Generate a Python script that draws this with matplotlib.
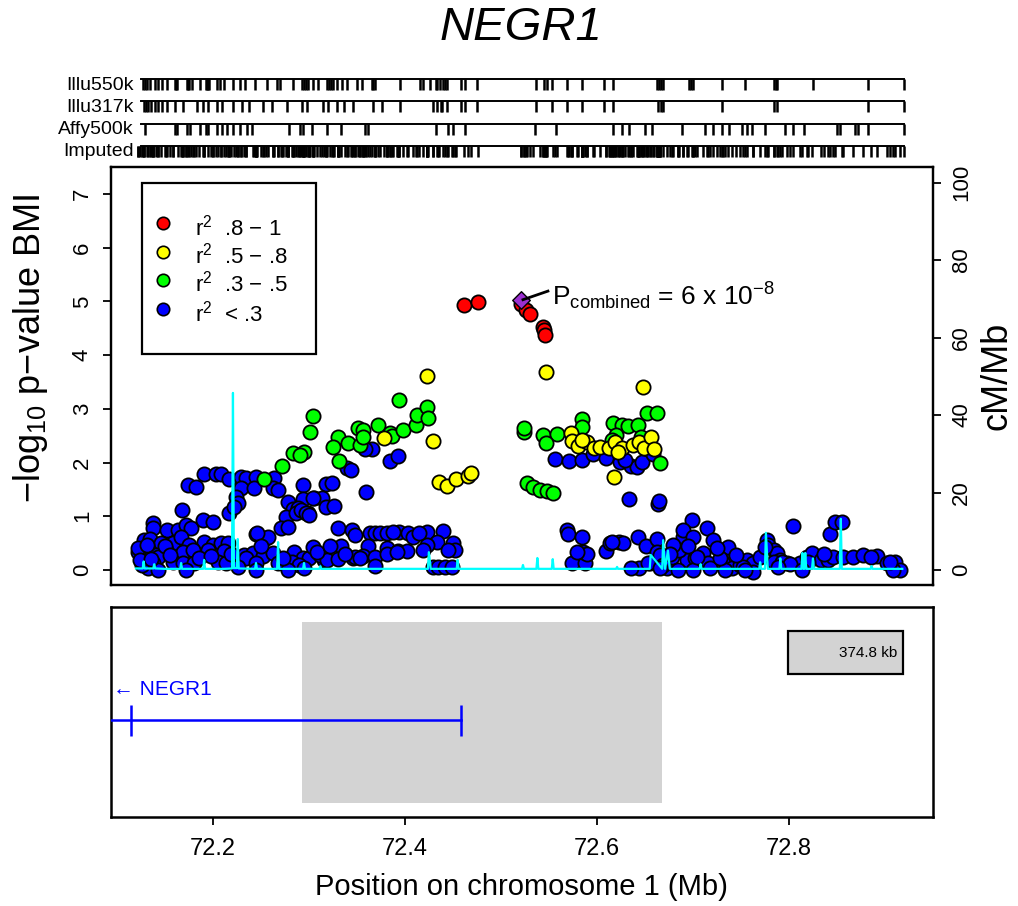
import matplotlib
matplotlib.use('Agg')
import matplotlib.pyplot as plt
from matplotlib.patches import Rectangle

plt.rcParams['font.family'] = ['Liberation Sans', 'DejaVu Sans']
plt.rcParams['mathtext.fontset'] = 'custom'
plt.rcParams['mathtext.rm'] = 'Liberation Sans'
plt.rcParams['mathtext.it'] = 'Liberation Sans:italic'
plt.rcParams['mathtext.default'] = 'regular'

# ---------------- data ----------------
gene_title = "NEGR1"

# r2 < .3 (blue)
blue_x = [72.191, 72.203, 72.209, 72.217, 72.229, 72.235, 72.245, 72.264, 72.174, 72.183,
          72.229, 72.243, 72.263, 72.268, 72.294, 72.318, 72.324, 72.224, 72.226, 72.217,
          72.222, 72.168, 72.278, 72.294, 72.305, 72.314, 72.284, 72.289, 72.299, 72.276,
          72.271, 72.278, 72.138, 72.138, 72.152, 72.164, 72.172, 72.177, 72.190, 72.200,
          72.128, 72.135, 72.146, 72.159, 72.167, 72.175, 72.191, 72.200, 72.209, 72.216,
          72.245, 72.255, 72.127, 72.141, 72.151, 72.169, 72.179, 72.195, 72.212, 72.232,
          72.242, 72.252, 72.263, 72.285, 72.294, 72.300, 72.143, 72.128, 72.138, 72.159,
          72.169, 72.180, 72.205, 72.214, 72.235, 72.245, 72.268, 72.282, 72.290, 72.133,
          72.143, 72.172, 72.226, 72.245, 72.278, 72.295, 72.316, 72.287, 72.292, 72.297,
          72.304, 72.318, 72.300, 72.257, 72.246, 72.122, 72.126, 72.122, 72.124, 72.304,
          72.312,
          72.326, 72.360, 72.340, 72.344, 72.366, 72.359, 72.385, 72.393,
          72.330, 72.345, 72.348, 72.364, 72.369, 72.374, 72.381, 72.394, 72.403, 72.409,
          72.423, 72.440, 72.434, 72.423, 72.450, 72.452, 72.334, 72.362, 72.381, 72.393,
          72.402, 72.419, 72.319, 72.330, 72.346, 72.356, 72.369, 72.381, 72.392, 72.369,
          72.429, 72.435, 72.442, 72.449, 72.348, 72.353,
          72.556, 72.571, 72.584, 72.596, 72.614, 72.624, 72.635, 72.642, 72.647, 72.658,
          72.633, 72.664, 72.665, 72.609, 72.629,
          72.569, 72.570, 72.585, 72.574, 72.588, 72.586, 72.590, 72.609, 72.614, 72.623,
          72.627, 72.644, 72.643, 72.651, 72.663, 72.655, 72.664, 72.673, 72.678, 72.684,
          72.690, 72.699, 72.690, 72.700, 72.715, 72.721, 72.694, 72.702, 72.711, 72.716,
          72.730, 72.736, 72.731, 72.741, 72.749, 72.756, 72.763, 72.770, 72.777, 72.778,
          72.784, 72.788, 72.791, 72.798, 72.804, 72.812, 72.819, 72.824, 72.833, 72.841,
          72.843, 72.848, 72.855, 72.846, 72.856, 72.867, 72.877, 72.892, 72.902, 72.910,
          72.916, 72.908, 72.616, 72.663, 72.666, 72.684, 72.700, 72.718, 72.733, 72.763,
          72.579, 72.653, 72.669, 72.685, 72.679, 72.704, 72.728, 72.752, 72.775, 72.784,
          72.793, 72.801, 72.820, 72.905, 72.789, 72.814, 72.754, 72.635, 72.666,
          72.131, 72.136, 72.150, 72.155, 72.186, 72.198, 72.219, 72.250, 72.273, 72.308,
          72.322, 72.338, 72.388, 72.415, 72.445, 72.676, 72.695, 72.725, 72.745, 72.836,
          72.885]
blue_y = [1.79, 1.79, 1.79, 1.69, 1.73, 1.71, 1.73, 1.71, 1.58, 1.55,
          1.53, 1.53, 1.53, 1.49, 1.58, 1.60, 1.62, 1.36, 1.25, 1.06,
          1.17, 1.12, 1.27, 1.32, 1.34, 1.34, 1.14, 1.15, 1.06, 0.99,
          0.78, 0.80, 0.88, 0.78, 0.74, 0.74, 0.84, 0.78, 0.93, 0.89,
          0.56, 0.58, 0.50, 0.50, 0.61, 0.47, 0.52, 0.47, 0.50, 0.50,
          0.67, 0.60, 0.34, 0.28, 0.37, 0.34, 0.37, 0.37, 0.35, 0.28,
          0.32, 0.26, 0.32, 0.34, 0.22, 0.22, 0.24, 0.09, 0.13, 0.15,
          0.13, 0.13, 0.15, 0.13, 0.22, 0.13, 0.13, 0.15, 0.09, 0.04,
          0.00, 0.00, 0.06, 0.00, 0.00, 0.04, 0.19, 1.06, 1.12, 1.06,
          1.34, 1.17, 1.02, 0.61, 0.69, 0.34, 0.09, 0.41, 0.19, 0.43,
          0.28,
          1.19, 1.45, 1.90, 1.86, 2.25, 2.25, 2.03, 2.12,
          0.78, 0.74, 0.65, 0.69, 0.69, 0.69, 0.69, 0.71, 0.69, 0.61,
          0.71, 0.73, 0.52, 0.47, 0.50, 0.37, 0.45, 0.45, 0.41, 0.35,
          0.35, 0.37, 0.19, 0.20, 0.22, 0.26, 0.24, 0.30, 0.34, 0.07,
          0.06, 0.06, 0.06, 0.06, 0.24, 0.22,
          2.07, 2.03, 2.05, 2.16, 2.18, 2.01, 1.94, 1.92, 2.01, 2.16,
          1.32, 1.23, 1.28, 2.09, 2.05,
          0.74, 0.67, 0.61, 0.13, 0.13, 0.34, 0.30, 0.35, 0.50, 0.52,
          0.50, 0.04, 0.61, 0.45, 0.58, 0.13, 0.32, 0.04, 0.24, 0.43,
          0.61, 0.93, 0.74, 0.61, 0.78, 0.56, 0.19, 0.22, 0.32, 0.13,
          0.28, 0.43, 0.13, 0.04, 0.09, 0.19, 0.13, 0.24, 0.56, 0.47,
          0.37, 0.32, 0.19, 0.13, 0.82, 0.13, 0.24, 0.32, 0.19, 0.19,
          0.67, 0.89, 0.89, 0.24, 0.24, 0.24, 0.28, 0.26, 0.13, 0.15,
          0.00, 0.00, 0.52, 0.34, 0.28, 0.00, 0.00, 0.04, 0.00, -0.04,
          0.34, 0.13, 0.09, 0.37, 0.47, 0.24, 0.22, 0.06, 0.43, 0.15,
          0.15, 0.11, 0.15, 0.15, 0.06, 0.00, 0.00, 0.04, 0.04,
          0.47, 0.20, 0.45, 0.28, 0.22, 0.26, 0.30, 0.45, 0.22, 0.34,
          0.45, 0.30, 0.71, 0.69, 0.37, 0.30, 0.45, 0.40, 0.28, 0.30,
          0.24]

# r2 .3 - .5 (green)
green_x = [72.304, 72.301, 72.295, 72.284, 72.291, 72.272, 72.253, 72.330, 72.331, 72.325,
           72.341, 72.351, 72.356, 72.353, 72.356, 72.372, 72.385, 72.387, 72.398, 72.412,
           72.413, 72.423, 72.424, 72.394,
           72.524, 72.524, 72.544, 72.558, 72.547, 72.585, 72.585, 72.617, 72.626, 72.632,
           72.643, 72.652, 72.663, 72.620, 72.646, 72.666, 72.527, 72.533, 72.541, 72.548,
           72.554, 72.616]
green_y = [2.87, 2.57, 2.20, 2.18, 2.14, 1.94, 1.69, 2.48, 2.03, 2.29,
           2.36, 2.64, 2.61, 2.33, 2.48, 2.70, 2.55, 2.50, 2.61, 2.70,
           2.89, 3.04, 2.83, 3.17,
           2.57, 2.64, 2.51, 2.53, 2.36, 2.81, 2.66, 2.74, 2.70, 2.68,
           2.70, 2.92, 2.92, 2.51, 2.48, 1.99, 1.62, 1.55, 1.49, 1.47,
           1.43, 2.42]

# r2 .5 - .8 (yellow)
yellow_x = [72.423, 72.378, 72.429, 72.436, 72.444, 72.453, 72.466, 72.469,
            72.547, 72.648, 72.618,
            72.573, 72.574, 72.580, 72.590, 72.597, 72.603, 72.613, 72.619, 72.626, 72.638,
            72.644, 72.649, 72.656, 72.659, 72.622, 72.585]
yellow_y = [3.61, 2.46, 2.40, 1.64, 1.56, 1.69, 1.75, 1.81,
            3.69, 3.41, 1.73,
            2.55, 2.40, 2.31, 2.38, 2.27, 2.29, 2.27, 2.38, 2.27, 2.33,
            2.38, 2.27, 2.48, 2.25, 2.20, 2.42]

# r2 .8 - 1 (red)
red_x = [72.462, 72.476, 72.521, 72.526, 72.530, 72.544, 72.545, 72.546]
red_y = [4.93, 4.99, 4.95, 4.84, 4.77, 4.53, 4.46, 4.38]

# index SNP
top_x = [72.521]
top_y = [5.03]

# recombination rate (cM/Mb)
rec_pos = [72.120, 72.127, 72.128, 72.129, 72.138, 72.139, 72.140, 72.150, 72.166, 72.167,
           72.168, 72.185, 72.190, 72.191, 72.192, 72.212, 72.220, 72.221, 72.222, 72.225,
           72.226, 72.227, 72.244, 72.245, 72.246, 72.267, 72.268, 72.269, 72.294, 72.295,
           72.296, 72.311, 72.312, 72.313, 72.350, 72.400, 72.424, 72.425, 72.427, 72.454,
           72.455, 72.456, 72.500, 72.522, 72.523, 72.524, 72.537, 72.538, 72.539, 72.553,
           72.554, 72.555, 72.600, 72.620, 72.621, 72.622, 72.650, 72.655, 72.656, 72.668,
           72.669, 72.671, 72.674, 72.676, 72.700, 72.707, 72.708, 72.709, 72.740, 72.769,
           72.770, 72.771, 72.775, 72.776, 72.778, 72.790, 72.791, 72.792, 72.813, 72.814,
           72.815, 72.816, 72.817, 72.818, 72.824, 72.825, 72.826, 72.853, 72.854, 72.855,
           72.885, 72.886, 72.887, 72.918]
rec_rate = [0.4, 0.4, 2.2, 0.4, 0.4, 1.5, 0.4, 0.3, 0.3, 1.8,
            0.3, 0.3, 0.3, 2.6, 0.3, 0.3, 0.4, 45.7, 0.5, 0.5,
            8.0, 0.4, 0.3, 1.8, 0.3, 0.3, 7.2, 0.3, 0.3, 1.8,
            0.3, 0.3, 1.0, 0.3, 0.3, 0.3, 0.3, 4.6, 0.3, 0.3,
            2.6, 0.3, 0.3, 0.3, 1.3, 0.3, 0.3, 3.1, 0.3, 0.3,
            2.8, 0.3, 0.3, 0.3, 0.8, 0.3, 0.3, 0.3, 3.9, 0.3,
            7.7, 0.3, 5.0, 0.3, 0.3, 0.3, 1.5, 0.3, 0.3, 0.3,
            2.0, 0.3, 0.3, 9.6, 0.3, 0.3, 3.0, 0.3, 0.3, 4.4,
            0.3, 0.3, 4.4, 0.3, 0.3, 3.0, 0.3, 0.3, 13.2, 0.3,
            0.3, 1.0, 0.3, 0.3]

# genotyping platform marker positions (Mb)
illu550k = [72.127, 72.129, 72.132, 72.135, 72.140, 72.143, 72.147, 72.152, 72.161, 72.162,
            72.163, 72.173, 72.174, 72.175, 72.178, 72.187, 72.193, 72.194, 72.195, 72.196,
            72.204, 72.208, 72.212, 72.221, 72.228, 72.234, 72.244, 72.256, 72.267, 72.270,
            72.284, 72.293, 72.295, 72.297, 72.299, 72.304, 72.310, 72.319, 72.321, 72.323,
            72.325, 72.329, 72.335, 72.340, 72.350, 72.355, 72.366, 72.367, 72.369, 72.395,
            72.416, 72.419, 72.426, 72.432, 72.434, 72.437, 72.440, 72.442, 72.444, 72.458,
            72.463, 72.475, 72.537, 72.545, 72.548, 72.553, 72.569, 72.584, 72.607, 72.617,
            72.663, 72.665, 72.667, 72.669, 72.696, 72.698, 72.700, 72.730, 72.754, 72.784,
            72.786, 72.788, 72.825, 72.882, 72.920]
illu317k = [72.128, 72.130, 72.133, 72.136, 72.140, 72.143, 72.147, 72.152, 72.161, 72.169,
            72.184, 72.190, 72.195, 72.204, 72.210, 72.221, 72.230, 72.238, 72.252, 72.262,
            72.277, 72.293, 72.298, 72.315, 72.320, 72.329, 72.337, 72.346, 72.367, 72.376,
            72.395, 72.429, 72.434, 72.438, 72.439, 72.444, 72.458, 72.463, 72.475, 72.537,
            72.553, 72.569, 72.584, 72.607, 72.617, 72.664, 72.667, 72.669, 72.730, 72.784,
            72.788, 72.882, 72.920]
affy500k = [72.129, 72.161, 72.163, 72.173, 72.176, 72.187, 72.193, 72.195, 72.204, 72.210,
            72.215, 72.221, 72.228, 72.236, 72.241, 72.279, 72.291, 72.294, 72.303, 72.319,
            72.333, 72.359, 72.362, 72.432, 72.445, 72.450, 72.463, 72.536, 72.557, 72.617,
            72.626, 72.633, 72.650, 72.657, 72.689, 72.713, 72.721, 72.730, 72.738, 72.751,
            72.756, 72.762, 72.775, 72.796, 72.804, 72.816, 72.850, 72.853, 72.869, 72.872,
            72.882, 72.920]
imputed = sorted(blue_x + green_x + yellow_x + red_x + top_x + [72.920])
track_names = ["Illu550k", "Illu317k", "Affy500k", "Imputed"]
track_start, track_end = 72.125, 72.920

# gene / region
gene_start, gene_end = 72.050, 72.458
gene_exons = [72.115, 72.458]
region_start, region_end = 72.293, 72.668
region_label = "374.8 kb"
x_ticks = [72.2, 72.4, 72.6, 72.8]
p_ticks = [0, 1, 2, 3, 4, 5, 6, 7]
cm_ticks = [0, 20, 40, 60, 80, 100]
legend_labels = ["r$^2$  .8 \u2212 1", "r$^2$  .5 \u2212 .8", "r$^2$  .3 \u2212 .5", "r$^2$  < .3"]
legend_colors = ["#ff0000", "#ffff00", "#00ff00", "#0000ff"]

# ---------------- figure ----------------
W, H = 1018, 906
fig = plt.figure(figsize=(W / 100, H / 100), dpi=100)


def box(l, t, r, b):
    return [l / W, 1 - b / H, (r - l) / W, (b - t) / H]


XLIM = (72.094, 72.950)

# main association panel
ax = fig.add_axes(box(111, 167, 933, 585))
ax.set_xlim(*XLIM)
ax.set_ylim(-0.28, 7.5)
mk = dict(s=105, edgecolors='black', linewidths=1.3)
ax.scatter(blue_x, blue_y, c='#0000ff', zorder=3, **mk)
ax.scatter(green_x, green_y, c='#00ff00', zorder=4, **mk)
ax.scatter(yellow_x, yellow_y, c='#ffff00', zorder=5, **mk)
ax.scatter(red_x, red_y, c='#ff0000', zorder=6, **mk)
ax.scatter(top_x, top_y, marker='D', s=80, c='#9b30d0', edgecolors='black',
           linewidths=1.0, zorder=7)
ax.plot([top_x[0] + 0.002, 72.549], [top_y[0], 5.19], color='black', lw=2, zorder=8)
ax.text(72.553, 4.93, r"P$_{combined}$ = 6 x 10$^{-8}$", fontsize=19,
        ha='left', va='baseline', zorder=9)

ax.set_xticks([])
ax.set_yticks(p_ticks)
ax.set_yticklabels([str(t) for t in p_ticks], rotation=90, va='center', fontsize=16)
ax.tick_params(axis='y', direction='out', length=6, width=1.3, pad=7)
for sp in ax.spines.values():
    sp.set_linewidth(1.6)
ax.set_ylabel("\u2212log$_{10}$ p\u2212value BMI", fontsize=26)
ax.yaxis.set_label_coords(-0.074, 0.565)

# legend (drawn manually)
ax.add_patch(Rectangle((0.0377, 0.5526), 0.2117, 0.4091, transform=ax.transAxes,
                       facecolor='white', edgecolor='black', lw=1.6, zorder=10))
leg_y = [0.866, 0.797, 0.730, 0.660]
for yy, lab, col in zip(leg_y, legend_labels, legend_colors):
    ax.scatter([0.0633], [yy], s=80, c=col, edgecolors='black', linewidths=1.2,
               transform=ax.transAxes, zorder=11, clip_on=False)
    ax.text(0.102, yy - 0.01, lab, transform=ax.transAxes, fontsize=16,
            ha='left', va='center', zorder=11)

# recombination rate on right axis
ax2 = ax.twinx()
ax2.set_xlim(*XLIM)
ax2.set_ylim(-3.87, 104)
ax2.plot(rec_pos, rec_rate, color='#00ffff', lw=1.6, zorder=2)
ax2.set_yticks(cm_ticks)
ax2.set_yticklabels([str(t) for t in cm_ticks], rotation=90, va='center', fontsize=16)
ax2.tick_params(axis='y', direction='out', length=6, width=1.3, pad=7)
ax2.set_ylabel("cM/Mb", fontsize=26, rotation=90)
ax2.yaxis.set_label_coords(1.056, 0.5)
for sp in ax2.spines.values():
    sp.set_linewidth(1.6)

# marker tracks
axt = fig.add_axes(box(111, 75, 933, 160))
axt.set_xlim(*XLIM)
axt.set_ylim(85, 0)
axt.axis('off')
row_top = [4, 26, 49, 71]
for name, pos, yt in zip(track_names, [illu550k, illu317k, affy500k, imputed], row_top):
    axt.plot([track_start, track_end], [yt, yt], color='black', lw=1.4)
    axt.vlines(pos, yt, yt + 11, color='black', lw=1.8)
    axt.text(72.118, yt + 6, name, ha='right', va='center', fontsize=14)

# gene panel
axg = fig.add_axes(box(111, 607, 933, 817))
axg.set_xlim(*XLIM)
axg.set_ylim(0, 1)
axg.add_patch(Rectangle((region_start, 0.067), region_end - region_start, 0.862,
                        facecolor='#d3d3d3', edgecolor='none', zorder=1))
axg.plot([gene_start, gene_end], [0.462, 0.462], color='#0000ff', lw=1.8, zorder=3)
axg.vlines(gene_exons, 0.386, 0.533, color='#0000ff', lw=1.8, zorder=3)
axg.text(72.096, 0.605, "\u2190 NEGR1", color='#0000ff', fontsize=15, ha='left',
         va='center', zorder=4)
axg.add_patch(Rectangle((72.799, 0.681), 0.120, 0.205, facecolor='#d3d3d3',
                        edgecolor='black', lw=1.6, zorder=2))
axg.text(72.913, 0.783, region_label, fontsize=11, ha='right', va='center', zorder=3)
axg.set_yticks([])
axg.set_xticks(x_ticks)
axg.set_xticklabels([f"{t:.1f}" for t in x_ticks], fontsize=17)
axg.tick_params(axis='x', direction='out', length=6, width=1.3, pad=9)
for sp in axg.spines.values():
    sp.set_linewidth(1.8)

fig.text(0.512, 1 - 887 / H, "Position on chromosome 1 (Mb)", fontsize=21,
         ha='center', va='center')
fig.text(0.512, 1 - 28 / H, gene_title, fontsize=34, style='italic',
         ha='center', va='center')

fig.savefig("out.png", dpi=100)
